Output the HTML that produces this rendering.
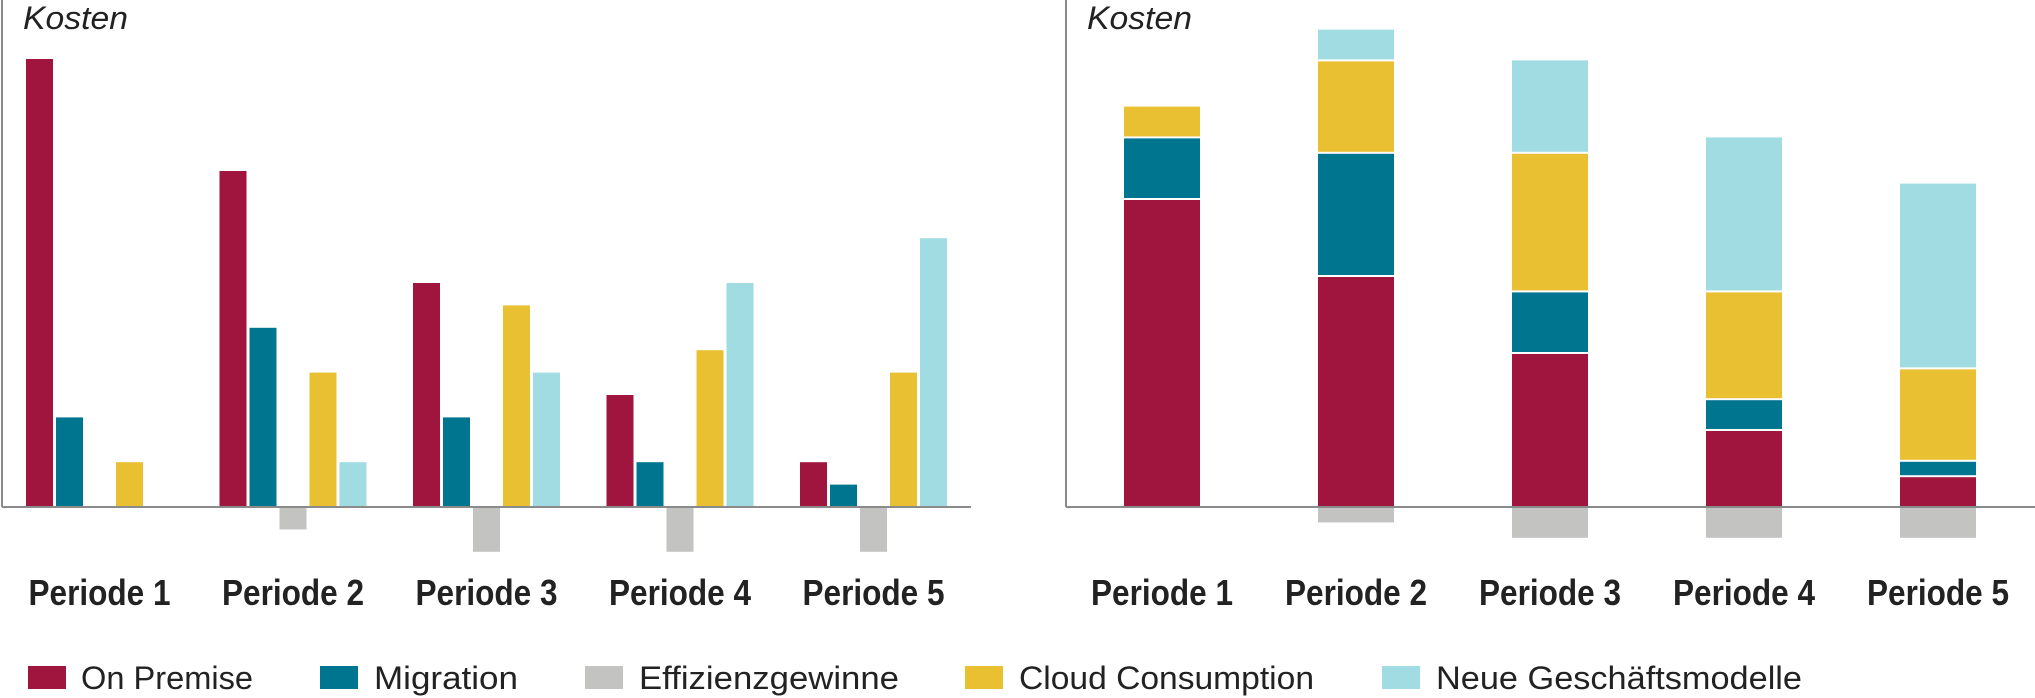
<!DOCTYPE html>
<html><head><meta charset="utf-8"><style>
html,body{margin:0;padding:0;background:#fff;}
svg{display:block;font-family:"Liberation Sans",sans-serif;}
</style></head><body>
<svg id="c" width="2035" height="698" viewBox="0 0 2035 698" xmlns="http://www.w3.org/2000/svg"></svg>
<script>
const categories = ["Periode 1","Periode 2","Periode 3","Periode 4","Periode 5"];
const seriesNames = ["On Premise","Migration","Effizienzgewinne","Cloud Consumption","Neue Geschäftsmodelle"];
const onPremise = [20,15,10,5,2];
const migration = [4,8,4,2,1];
const effizienz = [0,-1,-2,-2,-2];
const cloud = [2,6,9,7,6];
const neue = [0,2,6,10,12];
const colors = ["#a0153e","#007590","#c3c3c1","#e9c032","#a0dce2"];
const series = [onPremise,migration,effizienz,cloud,neue];
const NS="http://www.w3.org/2000/svg";
const svg=document.getElementById('c');
function mk(tag,attrs,parent){const e=document.createElementNS(NS,tag);for(const k in attrs)e.setAttribute(k,attrs[k]);(parent||svg).appendChild(e);return e;}
const base=507;
const yL=v=>base - v*22.4;
const xL=(g,s)=>26+g*193.5+s*30;
const yR=v=>base - v*15.4;
const xR=g=>1124+g*194;

const gl=mk('g',{});


series.forEach((arr,s)=>{arr.forEach((v,g)=>{if(v===0)return;
  const r=mk('rect',{x:xL(g,s),y:Math.min(yL(v),yL(0)),width:27,height:Math.abs(yL(v)-yL(0)),fill:colors[s]},gl);
  
  
});});
const la=mk('line',{x1:2,y1:0,x2:2,y2:base,stroke:'#8a8a8a','stroke-width':2},gl);

const lb=mk('line',{x1:2,y1:base,x2:971,y2:base,stroke:'#8a8a8a','stroke-width':2},gl);

const lt=mk('text',{x:23,y:29,'font-size':32,'font-style':'italic',fill:'#222',textLength:105,lengthAdjust:'spacingAndGlyphs'},gl);
lt.textContent='Kosten';
categories.forEach((c,g)=>{
  const t=mk('text',{x:xL(g,0)+73.5,y:605,'font-size':36,'font-weight':'bold','text-anchor':'middle',fill:'#222',textLength:142,lengthAdjust:'spacingAndGlyphs'},gl);
  t.textContent=c;
});

const gr=mk('g',{});


const order=[0,1,3,4];
categories.forEach((c,g)=>{
  let acc=0;
  order.forEach(s=>{const v=series[s][g];if(v<=0)return;
    const y1=yR(acc+v),y0=yR(acc);
    const r=mk('rect',{x:xR(g),y:y1,width:76,height:Math.max(0,y0-y1),fill:colors[s]},gr);
    
    
    if(acc>0){const w=mk('rect',{x:xR(g),y:y0-1,width:76,height:2,fill:'#fff'},gr);
      }
    acc+=v;
  });
  const e=effizienz[g];
  if(e<0){const r=mk('rect',{x:xR(g),y:yR(0),width:76,height:yR(e)-yR(0),fill:colors[2]},gr);
    }
  const t=mk('text',{x:xR(g)+38,y:605,'font-size':36,'font-weight':'bold','text-anchor':'middle',fill:'#222',textLength:142,lengthAdjust:'spacingAndGlyphs'},gr);
  t.textContent=c;
});
const ra=mk('line',{x1:1066,y1:0,x2:1066,y2:base,stroke:'#8a8a8a','stroke-width':2},gr);

const rb=mk('line',{x1:1066,y1:base,x2:2035,y2:base,stroke:'#8a8a8a','stroke-width':2},gr);

const rt=mk('text',{x:1087,y:29,'font-size':32,'font-style':'italic',fill:'#222',textLength:105,lengthAdjust:'spacingAndGlyphs'},gr);
rt.textContent='Kosten';

const legSq=[28,320,585,965,1382];
const legTx=[[81,172],[374,144],[639,260],[1019,295],[1436,366]];
const lg=mk('g',{});

seriesNames.forEach((n,i)=>{
  const r=mk('rect',{x:legSq[i],y:666,width:38,height:23,fill:colors[i]},lg);
  
  const t=mk('text',{x:legTx[i][0],y:689,'font-size':32,fill:'#222',textLength:legTx[i][1],lengthAdjust:'spacingAndGlyphs'},lg);
  t.textContent=n;
});
</script>
</body></html>
